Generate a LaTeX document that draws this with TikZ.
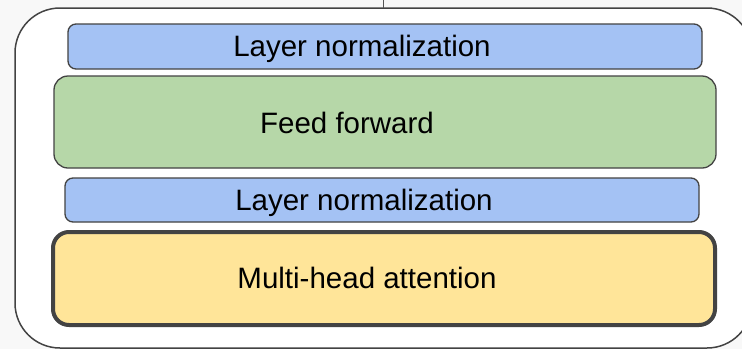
\documentclass[tikz,border=0pt]{standalone}
\usepackage{fontspec}
\setmainfont{Liberation Sans}
\definecolor{bgout}{RGB}{248,248,248}
\definecolor{edge}{HTML}{434343}
\definecolor{lnblue}{HTML}{A4C2F4}
\definecolor{ffgreen}{HTML}{B6D7A8}
\definecolor{mhayellow}{HTML}{FFE599}
\begin{document}
\begin{tikzpicture}[x=1pt,y=-1pt,
  box/.style={draw=edge, line width=1.3pt, rounded corners=8pt, inner sep=0pt, outer sep=0pt},
  lbl/.style={anchor=base, font=\fontsize{29.5}{34}\selectfont, text=black, inner sep=0pt}]
\useasboundingbox (0,0) rectangle (742,349);
\fill[bgout] (0,0) rectangle (742,349);
\begin{scope}
\clip (0,0) rectangle (742,349);
\node[draw=edge, line width=1.5pt, fill=white, rounded corners=45pt, minimum width=737pt, minimum height=340pt, inner sep=0pt, outer sep=0pt] (outer) at (383.5,178) {};
\coordinate (topend) at (383.5,0);
\draw[edge!90, line width=1pt] (outer.north) -- (topend);
\end{scope}
\node[box, fill=lnblue, minimum width=634pt, minimum height=45pt] (ln1) at (385,46.5) {};
\node[box, fill=ffgreen, rounded corners=14pt, minimum width=662pt, minimum height=92pt] (ff) at (385,122) {};
\node[box, fill=lnblue, minimum width=634pt, minimum height=44pt] (ln2) at (382,200) {};
\node[box, fill=mhayellow, line width=4pt, rounded corners=16pt, minimum width=662pt, minimum height=93pt] (mha) at (384,278.5) {};
\node[lbl] (t1) at (362,56.5) {Layer normalization};
\node[lbl] (t2) at (347,133) {Feed forward};
\node[lbl] (t3) at (364,210) {Layer normalization};
\node[lbl] (t4) at (367,288) {Multi-head attention};
\end{tikzpicture}
\end{document}
